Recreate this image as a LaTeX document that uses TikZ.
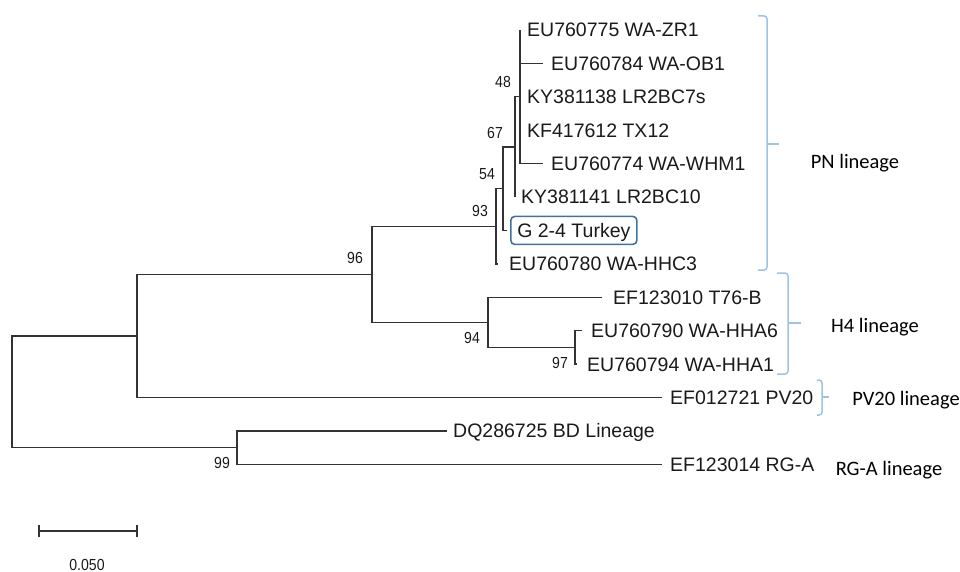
\documentclass[tikz,border=0pt]{standalone}
\usepackage{fontspec}
\setmainfont{Liberation Sans}
\newfontfamily\calfont{Carlito}
\newfontfamily\narrowfont[FakeStretch=0.88]{Liberation Sans}
\newcommand\leaffont{\fontsize{19.5}{22}\selectfont}
\newcommand\bootfont{\narrowfont\fontsize{16}{18}\selectfont}
\newcommand\linfont{\calfont\fontsize{20.5}{23}\selectfont}
\definecolor{treegray}{HTML}{333333}
\definecolor{labelcol}{HTML}{1A1A1A}
\definecolor{bracecol}{HTML}{9DC3E6}
\definecolor{boxcol}{HTML}{41719C}
\begin{document}
\begin{tikzpicture}[x=1pt,y=-1pt,
  branch/.style={draw=treegray, line width=1.4pt},
  leaf/.style={anchor=west, inner sep=0pt, text height=14pt, text depth=0pt, font=\leaffont, text=labelcol},
  boot/.style={inner sep=0pt, font=\bootfont, text=labelcol},
  bracepath/.style={draw=bracecol, line width=1.5pt, rounded corners=3pt},
  lineage/.style={inner sep=0pt, font=\linfont, text=black},
  hibox/.style={draw=boxcol, line width=1.6pt, rounded corners=4pt, inner xsep=6.5pt, minimum height=28pt, text height=14pt, text depth=0pt, font=\leaffont, text=labelcol, anchor=west}
]
\useasboundingbox (0,0) rectangle (960,572);

% internal nodes
\coordinate (n48) at (520,96.8);
\coordinate (n67) at (515,146.9);
\coordinate (n54) at (503,188.65);
\coordinate (n93) at (496,226.2);
\coordinate (n97) at (575,347.3);
\coordinate (n94) at (488,322.25);
\coordinate (n96) at (372,274.2);
\coordinate (n2) at (137,335.8);
\coordinate (nbd) at (237,447.5);
\coordinate (root) at (12,391.65);

% branch tips
\coordinate (t1) at (520,30);
\coordinate (t2) at (543,63.4);
\coordinate (t3) at (520,96.8);
\coordinate (t4) at (520,130.2);
\coordinate (t5) at (543,163.6);
\coordinate (t6) at (515,197);
\coordinate (t7) at (507,230.4);
\coordinate (t8) at (498,263.8);
\coordinate (t9) at (602,297.2);
\coordinate (t10) at (582,330.6);
\coordinate (t11) at (577,364);
\coordinate (t12) at (662,397.4);
\coordinate (t13) at (447,430.8);
\coordinate (t14) at (662,464.2);

% leaf labels
\node[leaf] (l1) at (527,30) {EU760775 WA-ZR1};
\node[leaf] (l2) at (551,63.4) {EU760784 WA-OB1};
\node[leaf] (l3) at (527,96.8) {KY381138 LR2BC7s};
\node[leaf] (l4) at (527,130.2) {KF417612 TX12};
\node[leaf] (l5) at (551,163.6) {EU760774 WA-WHM1};
\node[leaf] (l6) at (521,197) {KY381141 LR2BC10};
\node[hibox] (l7) at (510,230.4) {G 2-4 Turkey};
\node[leaf] (l8) at (509,263.8) {EU760780 WA-HHC3};
\node[leaf] (l9) at (613,297.2) {EF123010 T76-B};
\node[leaf] (l10) at (591,330.6) {EU760790 WA-HHA6};
\node[leaf] (l11) at (587,364) {EU760794 WA-HHA1};
\node[leaf] (l12) at (670,397.4) {EF012721 PV20};
\node[leaf] (l13) at (453,430.8) {DQ286725 BD Lineage};
\node[leaf] (l14) at (670,464.2) {EF123014 RG-A};

% branches
\draw[branch] (n48) |- (t1);
\draw[branch] (n48) |- (t2);
\draw[branch] (n48) |- (t3);
\draw[branch] (n48) |- (t4);
\draw[branch] (n48) |- (t5);
\draw[branch] (n67) |- (n48);
\draw[branch] (n67) |- (t6);
\draw[branch] (n54) |- (n67);
\draw[branch] (n54) |- (t7);
\draw[branch] (n93) |- (n54);
\draw[branch] (n93) |- (t8);
\draw[branch] (n96) |- (n93);
\draw[branch] (n96) |- (n94);
\draw[branch] (n94) |- (t9);
\draw[branch] (n94) |- (n97);
\draw[branch] (n97) |- (t10);
\draw[branch] (n97) |- (t11);
\draw[branch] (n2) |- (n96);
\draw[branch] (n2) |- (t12);
\draw[branch] (root) |- (n2);
\draw[branch] (root) |- (nbd);
\draw[branch] (nbd) |- (t13);
\draw[branch] (nbd) |- (t14);

% bootstrap values
\node[boot] (b48) at (503,82) {48};
\node[boot] (b67) at (495,133) {67};
\node[boot] (b54) at (487,174) {54};
\node[boot] (b93) at (480,211) {93};
\node[boot] (b96) at (355,258) {96};
\node[boot] (b94) at (472,338) {94};
\node[boot] (b97) at (560,363) {97};
\node[boot] (b99) at (222,463) {99};

% scale bar
\coordinate (sb1) at (39,531);
\coordinate (sb2) at (137,531);
\draw[branch] (sb1) -- (sb2);
\draw[branch] ([yshift=-6pt]sb1) -- ([yshift=6pt]sb1);
\draw[branch] ([yshift=-6pt]sb2) -- ([yshift=6pt]sb2);
\node[boot] (sbl) at (87,565) {0.050};

% braces
\draw[bracepath] (758,16) -- (767,16) -- (767,270) -- (758,270);
\draw[bracepath] (767,144) -- (779,144);
\draw[bracepath] (777,273) -- (788,273) -- (788,374) -- (777,374);
\draw[bracepath] (788,323) -- (801,323);
\draw[bracepath] (817,380) -- (822,380) -- (822,415) -- (817,415);
\draw[bracepath] (822,397) -- (829,397);

% lineage labels
\node[lineage] (pn) at (855,163) {PN lineage};
\node[lineage] (h4) at (875,327) {H4 lineage};
\node[lineage] (pv) at (906,400) {PV20 lineage};
\node[lineage] (rg) at (889,470) {RG-A lineage};
\end{tikzpicture}
\end{document}
